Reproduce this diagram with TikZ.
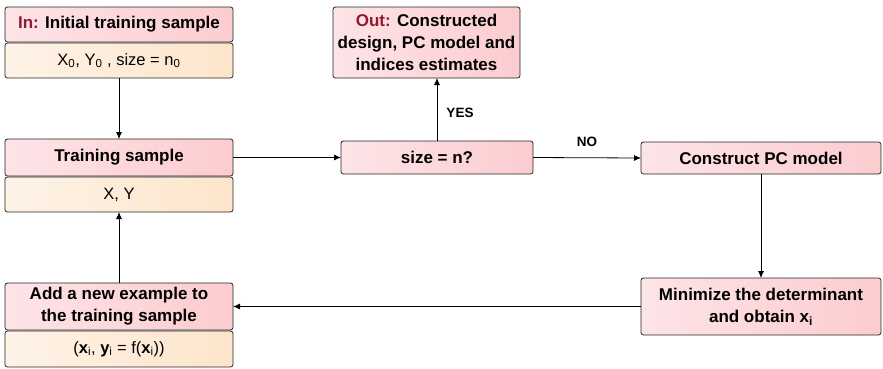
\documentclass[tikz,border=0pt]{standalone}
\usepackage{xcolor}
\usepackage{fontspec}
\setmainfont{Liberation Sans}
\usepackage{tikz}
\usetikzlibrary{arrows.meta}

\definecolor{pinkL}{HTML}{FDE4E7}
\definecolor{pinkR}{HTML}{FCCCCF}
\definecolor{orangeL}{HTML}{FEF3E7}
\definecolor{orangeR}{HTML}{FDE5CB}
\definecolor{inred}{HTML}{8E1B2E}

\tikzset{
  headbox/.style={draw=black!85, line width=.8pt, rounded corners=2.5pt,
    left color=pinkL, right color=pinkR, inner sep=0pt, outer sep=0pt,
    align=center, font=\fontsize{17}{22}\selectfont\bfseries},
  databox/.style={draw=black!85, line width=.8pt, rounded corners=2.5pt,
    left color=orangeL, right color=orangeR, inner sep=0pt, outer sep=0pt,
    align=center, font=\fontsize{16.5}{20}\selectfont},
  flow/.style={draw=black, line width=.8pt, -{Latex[length=7pt,width=6pt]}},
  answer/.style={font=\fontsize{13.5}{16}\selectfont\bfseries}
}

\begin{document}
\begin{tikzpicture}[x=1pt,y=-1pt]
             \useasboundingbox (0,0) rectangle (883,368);

             \node[headbox, minimum width=228pt, minimum height=35pt] (in) at (119, 24.5)
               {\textcolor{inred}{In:} Initial training sample};
             \node[databox, minimum width=228pt, minimum height=35pt] (indata) at (119, 60.5)
               {X\textsubscript{0}, Y\textsubscript{0} , size = n\textsubscript{0}};

             \node[headbox, minimum width=228pt, minimum height=37pt] (train) at (119, 157.5) {Training sample};
             \node[databox, minimum width=228pt, minimum height=35pt] (traindata) at (119, 194.5) {X, Y};

             \node[headbox, minimum width=228pt, minimum height=47pt] (add) at (119, 306.5)
               {Add a new example to\\the training sample};
             \node[databox, minimum width=228pt, minimum height=36pt] (adddata) at (119, 349)
               {(\textbf{x}\textsubscript{i}, \textbf{y}\textsubscript{i} = f(\textbf{x}\textsubscript{i}))};

             \node[headbox, minimum width=187pt, minimum height=71pt] (out) at (426.5, 42.5)
               {\textcolor{inred}{Out:} Constructed\\design, PC model and\\indices estimates};
             \node[headbox, minimum width=192pt, minimum height=33pt] (size) at (437, 157.5) {size = n?};

             \node[headbox, minimum width=240pt, minimum height=32pt] (construct) at (761, 158) {Construct PC model};
             \node[headbox, minimum width=240pt, minimum height=57pt] (minimize) at (761, 306.5)
               {Minimize the determinant\\and obtain x\textsubscript{i}};

             \node[answer] (yes) at (460, 113) {YES};
             \node[answer] (no) at (587, 142) {NO};

             \draw[flow] (indata.south) -- (train.north);
             \draw[flow] (train.east) -- (size.west);
             \draw[flow] (size.north) -- (size.north |- out.south);
             \draw[flow] (size.east) -- (construct.west);
             \draw[flow] (construct.south) -- (minimize.north);
             \draw[flow] (minimize.west) -- (add.east);
             \draw[flow] (add.north) -- (traindata.south);

             \end{tikzpicture}
\end{document}
